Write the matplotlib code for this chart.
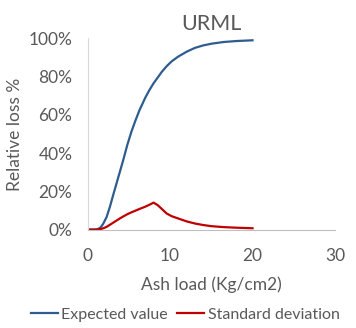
import matplotlib

matplotlib.use("Agg")
import matplotlib.pyplot as plt
from matplotlib.ticker import PercentFormatter

# values
ash_load = [0, 0.5, 1.0, 1.3, 1.6, 1.9, 2.3, 2.7, 3.1, 3.5, 3.9, 4.3, 4.8, 5.3, 5.8, 6.3, 7.0, 7.5, 8.0,
            8.5, 9.0, 9.6, 10.2, 11.0, 12.0, 13.0, 14.0, 15.0, 16.5, 18.0, 20.0]
expected = [0, 0, 0, 0.4, 1.2, 3.1, 6.5, 11.8, 18, 24, 30, 36, 44, 51, 57, 62.5, 69, 73, 76.5,
            79.5, 82.5, 85.5, 88, 90.5, 93, 95, 96.3, 97.2, 98.1, 98.6, 99]
std_dev = [0, 0, 0, 0.1, 0.3, 0.7, 1.4, 2.5, 3.6, 4.7, 5.8, 6.8, 8.0, 9.0, 9.9, 10.8, 12.0, 13.0, 14.1,
           12.8, 10.8, 8.4, 7.0, 5.8, 4.3, 3.2, 2.4, 1.8, 1.3, 1.0, 0.7]

TEXT = "#595959"
plt.rcParams["font.family"] = ["Lato", "DejaVu Sans"]

fig = plt.figure(figsize=(3.56, 3.28), dpi=100)
ax = fig.add_axes([0.246, 0.300, 0.695, 0.583])

ax.plot(ash_load, expected, color="#2E5C8E", lw=1.6, label="Expected value")
ax.plot(ash_load, std_dev, color="#C00000", lw=1.6, label="Standard deviation")

ax.set_xlim(0, 30)
ax.set_ylim(0, 100)
ax.set_xticks([0, 10, 20, 30])
ax.set_yticks([0, 20, 40, 60, 80, 100])
ax.yaxis.set_major_formatter(PercentFormatter(decimals=0))
ax.tick_params(length=0, labelsize=12.5, labelcolor=TEXT)
ax.tick_params(axis="y", pad=11)
ax.tick_params(axis="x", pad=13)

for side in ["top", "right"]:
    ax.spines[side].set_visible(False)
ax.spines["left"].set_color("#d9d9d9")
ax.spines["bottom"].set_color("#bfbfbf")
ax.spines["left"].set_linewidth(0.8)
ax.spines["bottom"].set_linewidth(0.8)

ax.set_title("URML", fontsize=15.5, color=TEXT, pad=6)
ax.set_xlabel("Ash load (Kg/cm2)", fontsize=12.5, color=TEXT)
ax.set_ylabel("Relative loss %", fontsize=12.5, color=TEXT)
ax.yaxis.set_label_coords(-0.262, 0.5)
ax.xaxis.set_label_coords(0.5, -0.245)

fig.legend(loc="center", bbox_to_anchor=(0.52, 0.04), ncol=2, frameon=False,
           fontsize=11.5, labelcolor=TEXT, handlelength=1.7, handletextpad=0.2,
           columnspacing=0.6, borderpad=0.2)

fig.savefig("out.png")
